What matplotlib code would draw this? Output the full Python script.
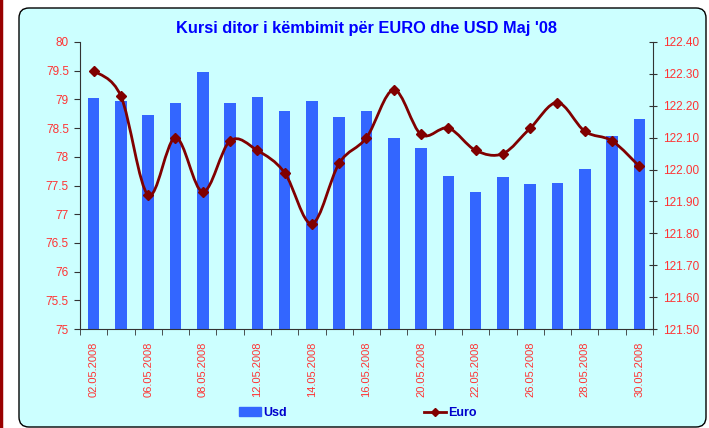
import matplotlib
matplotlib.use("Agg")
import matplotlib.pyplot as plt
from matplotlib.patches import FancyBboxPatch
from matplotlib.lines import Line2D
from matplotlib.path import Path
from matplotlib.patches import PathPatch
import numpy as np

plt.rcParams['font.family'] = ['Liberation Sans', 'DejaVu Sans']

dates = ["02.05.2008", "05.05.2008", "06.05.2008", "07.05.2008", "08.05.2008",
         "09.05.2008", "12.05.2008", "13.05.2008", "14.05.2008", "15.05.2008",
         "16.05.2008", "19.05.2008", "20.05.2008", "21.05.2008", "22.05.2008",
         "23.05.2008", "26.05.2008", "27.05.2008", "28.05.2008", "29.05.2008",
         "30.05.2008"]
usd = [79.03, 78.98, 78.73, 78.93, 79.48, 78.94, 79.05, 78.79, 78.98, 78.70,
       78.80, 78.32, 78.16, 77.67, 77.38, 77.64, 77.53, 77.55, 77.78, 78.37,
       78.66]
euro = [122.31, 122.23, 121.92, 122.10, 121.93, 122.09, 122.06, 121.99, 121.83,
        122.02, 122.10, 122.25, 122.11, 122.13, 122.06, 122.05, 122.13, 122.21,
        122.12, 122.09, 122.01]

usd_ticks = [75, 75.5, 76, 76.5, 77, 77.5, 78, 78.5, 79, 79.5, 80]
usd_ticklabels = ["75", "75.5", "76", "76.5", "77", "77.5", "78", "78.5", "79", "79.5", "80"]
euro_ticks = [121.5, 121.6, 121.7, 121.8, 121.9, 122.0, 122.1, 122.2, 122.3, 122.4]

BAR = "#3366FF"
LINE = "#800000"
LAB = "#FF3333"

W, H = 709, 428
fig = plt.figure(figsize=(W / 100, H / 100), dpi=100)
fig.patch.set_facecolor("white")

# rounded chart frame
frame = FancyBboxPatch((0.19, 0.01), 6.87, 4.19,
                       boxstyle="round,pad=0,rounding_size=0.1",
                       transform=fig.dpi_scale_trans, facecolor="#CCFFFF",
                       edgecolor="black", lw=1.0, zorder=-10)
fig.patches.append(frame)
fig.add_artist(Line2D([0.002, 0.002], [0, 1], color="#990000", lw=2.5,
                      transform=fig.transFigure))

ax = fig.add_axes([80 / W, 1 - 329 / H, 573 / W, 287 / H])
ax.patch.set_visible(False)
x = np.arange(len(dates))
ax.bar(x, [u - 75 for u in usd], bottom=75, width=0.42, color=BAR, zorder=2)
ax.set_xlim(-0.5, len(dates) - 0.5)
ax.set_ylim(75, 80)
ax.set_yticks(usd_ticks)
ax.set_yticklabels(usd_ticklabels)
ax.set_xticks(x[::2])
ax.set_xticklabels(dates[::2], rotation=90)
ax.set_xticks(np.arange(-0.5, len(dates), 1), minor=True)
ax.tick_params(axis='x', which='major', length=0, pad=9, labelsize=8, labelcolor=LAB)
ax.tick_params(axis='x', which='minor', length=4, direction='out', color="#333333")
ax.tick_params(axis='y', length=4, direction='out', labelsize=8.5, labelcolor=LAB,
               color="#333333", pad=4)
for s in ["top", "right"]:
    ax.spines[s].set_visible(False)
for s in ["left", "bottom"]:
    ax.spines[s].set_color("#333333")

ax2 = ax.twinx()
ax2.patch.set_visible(False)
ax2.set_ylim(121.5, 122.4)
ax2.set_yticks(euro_ticks)
ax2.set_yticklabels([f"{t:.2f}" for t in euro_ticks])
ax2.tick_params(axis='y', length=6, direction='inout', labelsize=8.5, labelcolor=LAB,
                color="#333333", pad=4)
for s in ["top", "left", "bottom"]:
    ax2.spines[s].set_visible(False)
ax2.spines["right"].set_color("#333333")

# smoothed line (Catmull-Rom as Bezier segments, like the spreadsheet smoothing)
pts = np.column_stack([x, euro]).astype(float)
verts = [tuple(pts[0])]
codes = [Path.MOVETO]
n = len(pts)
for i in range(n - 1):
    p0 = pts[max(i - 1, 0)]
    p1 = pts[i]
    p2 = pts[i + 1]
    p3 = pts[min(i + 2, n - 1)]
    c1 = p1 + (p2 - p0) / 6
    c2 = p2 - (p3 - p1) / 6
    verts += [tuple(c1), tuple(c2), tuple(p2)]
    codes += [Path.CURVE4] * 3
ax2.add_patch(PathPatch(Path(verts, codes), facecolor="none", edgecolor=LINE,
                        lw=2, zorder=3))
ax2.plot(x, euro, linestyle="none", marker="D", markersize=5, color=LINE, zorder=4)

fig.text(367 / W, 1 - 28 / H, "Kursi ditor i këmbimit për EURO dhe USD Maj '08",
         ha="center", va="center", fontsize=11.8, fontweight="bold", color="#0000FF")

handles = [plt.Rectangle((0, 0), 1, 1, color=BAR),
           Line2D([], [], color=LINE, lw=2, marker="D", markersize=4)]
leg = fig.legend(handles, ["Usd", "Euro"], loc="center",
                 bbox_to_anchor=(358 / W, 1 - 413 / H), ncol=2, frameon=False,
                 columnspacing=11, handlelength=1.7, handletextpad=0.2,
                 prop={"weight": "bold", "size": 9})
for t in leg.get_texts():
    t.set_color("#0000CC")

fig.savefig("out.png", dpi=100)
